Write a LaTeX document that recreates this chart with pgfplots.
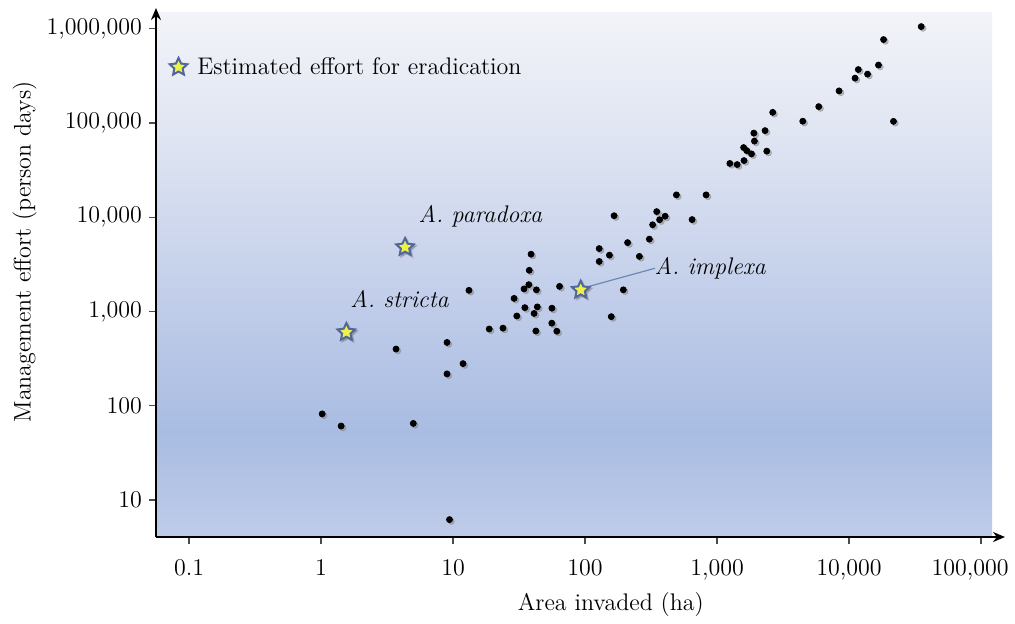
\documentclass[border=0pt]{standalone}
\usepackage{pgfplots}
\pgfplotsset{compat=1.18}
\usepackage{pgfplotstable}
\usetikzlibrary{arrows.meta}

\definecolor{bgA}{HTML}{BFCCE9}
\definecolor{bgB}{HTML}{A9BCE2}
\definecolor{bgC}{HTML}{C2CEEA}
\definecolor{bgD}{HTML}{DDE3F1}
\definecolor{bgE}{HTML}{F3F4F9}
\definecolor{stardraw}{HTML}{51679C}
\definecolor{staryellow}{HTML}{EEF244}
\definecolor{lineblue}{HTML}{6F87B8}
\pgfdeclareverticalshading{bgshade}{100bp}{color(0bp)=(bgA); color(25bp)=(bgA); color(35bp)=(bgB); color(48bp)=(bgC); color(62bp)=(bgD); color(75bp)=(bgE); color(100bp)=(bgE)}

\pgfdeclareplotmark{fstar}{%
 \pgfpathmoveto{\pgfpointpolar{90}{\pgfplotmarksize}}%
 \pgfpathlineto{\pgfpointpolar{126}{0.48\pgfplotmarksize}}%
 \pgfpathlineto{\pgfpointpolar{162}{\pgfplotmarksize}}%
 \pgfpathlineto{\pgfpointpolar{198}{0.48\pgfplotmarksize}}%
 \pgfpathlineto{\pgfpointpolar{234}{\pgfplotmarksize}}%
 \pgfpathlineto{\pgfpointpolar{270}{0.48\pgfplotmarksize}}%
 \pgfpathlineto{\pgfpointpolar{306}{\pgfplotmarksize}}%
 \pgfpathlineto{\pgfpointpolar{342}{0.48\pgfplotmarksize}}%
 \pgfpathlineto{\pgfpointpolar{18}{\pgfplotmarksize}}%
 \pgfpathlineto{\pgfpointpolar{54}{0.48\pgfplotmarksize}}%
 \pgfpathclose
 \pgfusepathqfillstroke}

\pgfplotsset{starlegend/.style={legend image code/.code={\draw[##1] plot coordinates {(0cm,0cm)};}}}

\pgfplotstableread{
x y
1.02 82
1.42 61
5.0 65
9.4 6.2
3.7 400
9.0 470
11.9 280
9.0 218
13.2 1680
18.8 653
23.9 667
29.0 1380
30.4 898
34.5 1740
35.0 1100
37.5 1930
37.8 2740
39.0 4060
41.1 955
42.8 1700
42.4 622
43.5 1120
56.1 1086
56.0 753
61.1 619
64.1 1850
128 4660
128 3400
153 3970
158 883
166 10400
195 1700
210 5390
258 3850
307 5870
325 8340
349 11500
367 9430
404 10280
492 17300
647 9460
826 17300
1250 37300
1420 36300
1600 40000
1590 55000
1680 51000
1825 47100
1920 64400
1900 78300
2310 83200
2380 50400
2640 130000
4460 104700
5890 149600
8400 219700
11100 300000
11750 370000
13800 331000
16700 413000
18250 770000
21700 104300
35200 1057000
}\dots

\pgfplotstableread{
x y
1.555 603
4.33 4815
92.7 1695
}\stars

\begin{document}
\begin{tikzpicture}[font=\fontsize{12}{14}\selectfont]
\begin{axis}[name=ax, scale only axis, width=418pt, height=262.5pt,
 xmode=log, ymode=log, xmin=0.0562, xmax=121000, ymin=4.05, ymax=1.51e6,
 axis lines=left, axis line style={line width=1pt, black},
 x axis line style={-{Stealth[length=6pt,width=5pt]}, shorten >=-6.5pt},
 y axis line style={-{Stealth[length=6pt,width=5pt]}, shorten >=-2pt},
 axis background/.style={shade, shading=bgshade},
 tick align=outside, major tick length=3.5pt,
 tick style={black!70, line width=0.6pt},
 xminorticks=false, yminorticks=false,
 xtick={0.1,1,10,100,1000,10000,100000},
 xticklabels={0.1,1,10,100,{1,000},{10,000},{\kern-11pt 100,000}},
 ytick={10,100,1000,10000,100000,1000000},
 yticklabels={10,100,{1,000},{10,000},{100,000},{1,000,000}},
 xticklabel style={yshift=-4pt},
 xlabel={Area invaded (ha)}, ylabel={Management effort (person days)},
 xlabel style={at={(axis description cs:0.544,-0.1295)}, anchor=center},
 ylabel style={at={(axis description cs:-0.157,0.543)}, anchor=center},
 legend style={at={(axis description cs:0.016,0.895)}, anchor=west, draw=none, fill=none, inner sep=0pt, font=\fontsize{12}{14}\selectfont},
 legend cell align=left,
]
\addplot[only marks, mark=*, mark size=1.5pt, black!50, opacity=0.45, mark options={xshift=0.9pt,yshift=-0.9pt}, forget plot] table {\dots};
\addplot[only marks, mark=*, mark size=1.5pt, black, forget plot] table {\dots};
\draw[color=lineblue, line width=0.6pt] (axis cs:105.4,1838) -- (axis cs:339,2882);
\addplot[only marks, mark=fstar, mark size=4.7pt, opacity=0.35, mark options={draw=black!60, fill=black!60, line width=0.9pt, xshift=0.8pt, yshift=-0.8pt}, forget plot] table {\stars};
\addplot[only marks, mark=fstar, mark size=4.6pt, mark options={draw=stardraw, fill=staryellow, line width=1pt}, starlegend] table {\stars};
\addlegendentry{\hspace{3pt}Estimated effort for eradication}
\node[anchor=base, font=\fontsize{12}{14}\selectfont\itshape] at (axis cs:16.1,8790) {A. paradoxa};
\node[anchor=base, font=\fontsize{12}{14}\selectfont\itshape] at (axis cs:3.93,1111) {A. stricta};
\node[anchor=base, font=\fontsize{12}{14}\selectfont\itshape] at (axis cs:886,2446) {A. implexa};
\end{axis}
\pgfresetboundingbox
\useasboundingbox ([xshift=-78pt,yshift=-43pt]ax.south west) rectangle ([xshift=11.5pt,yshift=6pt]ax.north east);
\end{tikzpicture}
\end{document}
